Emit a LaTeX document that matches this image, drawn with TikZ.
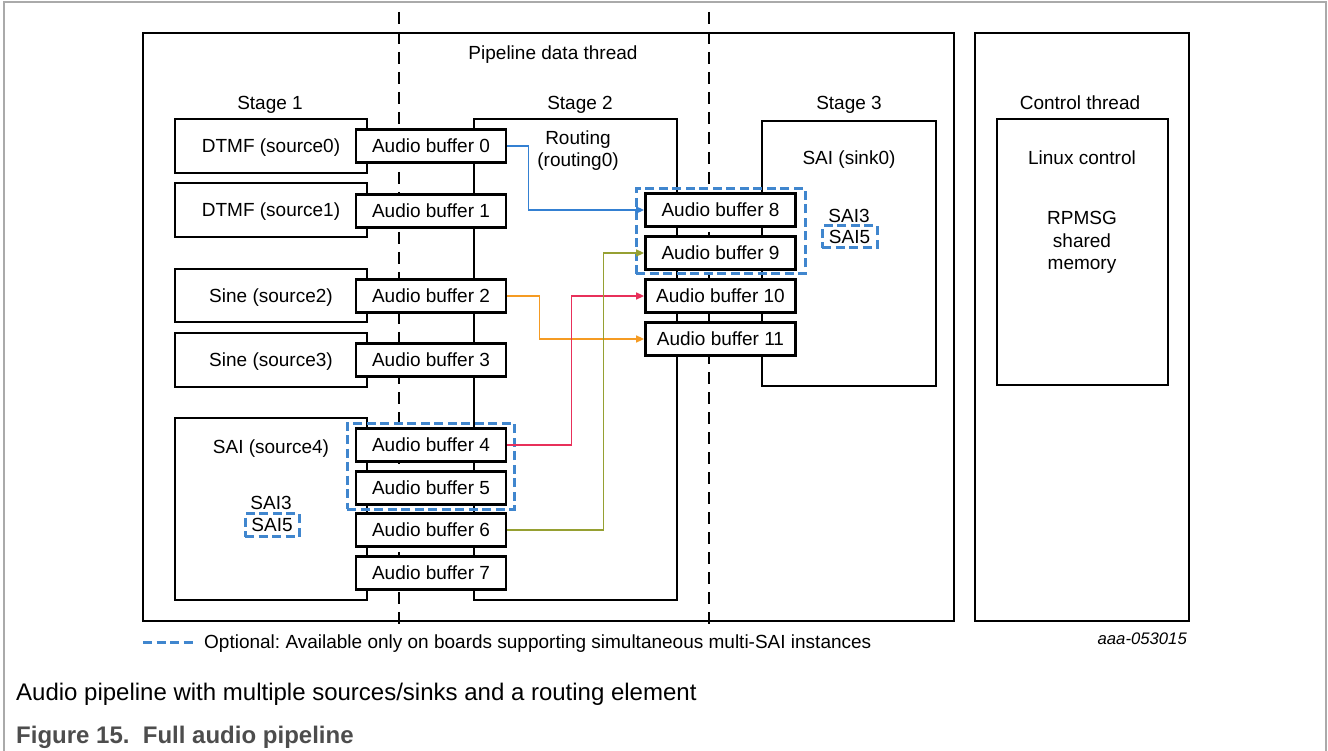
\documentclass[tikz,border=0pt]{standalone}
\usepackage{fontspec}
\setmainfont{Liberation Sans}
\usepackage{xcolor}
\usepackage{tikz}
\usetikzlibrary{calc}
\usetikzlibrary{arrows.meta}
\frenchspacing

\definecolor{optblue}{RGB}{64,134,206}
\definecolor{lnblue}{RGB}{52,128,210}
\definecolor{lnorange}{RGB}{245,155,35}
\definecolor{lnred}{RGB}{232,48,90}
\definecolor{lngreen}{RGB}{150,160,50}
\definecolor{framegray}{RGB}{170,170,170}
\definecolor{capgray}{RGB}{77,77,77}

\tikzset{
    box/.style={draw, line width=2.8pt, inner sep=0pt},
    mtxt/.style={inner sep=0pt, align=center, font=\fontsize{19}{22.5}\selectfont},
    txt/.style={mtxt, text height=13.7pt, text depth=0pt},
    src/.style={box, txt, minimum width=192pt},
    buf/.style={box, txt, fill=white, minimum width=150pt, minimum height=33pt},
    optbox/.style={draw=optblue, line width=3pt, dash pattern=on 9pt off 4.5pt},
    route/.style={line width=1.5pt, -{Triangle[length=8pt,width=7pt]}},
    sepline/.style={line width=1.2pt, dash pattern=on 12pt off 8pt},
}

\begin{document}
\begin{tikzpicture}[x=1pt, y=-1pt]
    \useasboundingbox (0,0) rectangle (1328,751);

    %FRAME
    \draw[framegray, line width=1.5pt] (4,751) -- (4,2) -- (1326,2) -- (1326,751);

    %THREADS
    \node[box, minimum width=811pt, minimum height=588pt] (pipe) at (548.5,327) {};
    \node[txt] (pipetxt) at (553,53) {Pipeline data thread};
    \node[box, minimum width=214pt, minimum height=588pt] (ctrl) at (1082,327) {};
    \node[txt] (ctrltxt) at (1080,103) {Control thread};
    \node[box, minimum width=171pt, minimum height=266pt] (linux) at (1082.5,252) {};
    \node[txt] (linuxtxt) at (1082,158) {Linux control};
    \node[mtxt] (rpmsg) at (1082,242.5) {RPMSG\\shared\\memory};

    %STAGES
    \node[txt] (stage1) at (270,103) {Stage 1};
    \node[txt] (stage2) at (580,103) {Stage 2};
    \node[txt] (stage3) at (849,103) {Stage 3};
    \draw[sepline] (399,12) -- (399,630);
    \draw[sepline] (709,12) -- (709,630);

    %SOURCES
    \node[src, minimum height=54pt] (src0) at (271,146) {DTMF (source0)};
    \node[src, minimum height=54pt] (src1) at (271,210) {DTMF (source1)};
    \node[src, minimum height=53pt] (src2) at (271,295.5) {Sine (source2)};
    \node[src, minimum height=54pt] (src3) at (271,360) {Sine (source3)};
    \node[src, minimum height=182pt] (src4) at (271,509) {};
    \node[txt] (src4txt) at (271,447) {SAI (source4)};
    \node[txt] (src4sai3) at (271,503) {SAI3};
    \node[txt, optbox, minimum width=54pt, minimum height=23pt] (src4sai5) at (272,525) {SAI5};

    %ROUTING + SINK
    \node[box, minimum width=203pt, minimum height=481pt] (rout) at (575.5,359.5) {};
    \node[mtxt] (routtxt) at (578,150.5) {Routing\\(routing0)};
    \node[box, minimum width=174pt, minimum height=265pt] (sink) at (849,253.5) {};
    \node[txt] (sinktxt) at (849,158) {SAI (sink0)};
    \node[txt] (sinksai3) at (849,216) {SAI3};
    \node[txt, optbox, minimum width=55pt, minimum height=22pt] (sinksai5) at (849.5,237) {SAI5};

    %BUFFERS
    \node[buf] (buf0) at (431,146) {Audio buffer 0};
    \node[buf] (buf1) at (431,211) {Audio buffer 1};
    \node[buf] (buf2) at (431,296) {Audio buffer 2};
    \node[buf] (buf3) at (431,360) {Audio buffer 3};
    \node[buf] (buf4) at (431,445) {Audio buffer 4};
    \node[buf] (buf5) at (431,488) {Audio buffer 5};
    \node[buf] (buf6) at (431,530) {Audio buffer 6};
    \node[buf] (buf7) at (431,573) {Audio buffer 7};

    \node[buf] (buf8) at (720.5,210) {Audio buffer 8};
    \node[buf] (buf9) at (720.5,253) {Audio buffer 9};
    \node[buf] (buf10) at (720.5,296) {Audio buffer 10};
    \node[buf] (buf11) at (720.5,339) {Audio buffer 11};

    %OPTIONAL
    \node[optbox, minimum width=167pt, minimum height=86pt] (grp45) at (430.5,466) {};
    \node[optbox, minimum width=169pt, minimum height=85pt] (grp89) at (720.5,231.5) {};

    %ROUTES
    \draw[route, lnblue] (buf0.east) -- ++(21,0) |- (buf8.west);
    \draw[route, lnorange] (buf2.east) -- ++(32,0) |- (buf11.west);
    \draw[route, lnred] (buf4.east) -- ++(64,0) |- (buf10.west);
    \draw[route, lngreen] (buf6.east) -- ++(96,0) |- (buf9.west);

    %LEGEND
    \coordinate (legstart) at (143,642);
    \draw[optbox] (legstart) -- ++(54,0) coordinate (legend);
    \node[txt, anchor=west] (legtxt) at ($(legend)+(7,0)$) {Optional: Available only on boards supporting simultaneous multi-SAI instances};
    \node[inner sep=0pt, anchor=east, text height=12pt, text depth=0pt, font=\fontsize{16.7}{20}\selectfont\itshape] (docid) at (1187,638) {aaa-053015};

    %CAPTION
    \node[inner sep=0pt, anchor=west, text height=17.2pt, text depth=0pt, font=\fontsize{24}{28}\selectfont] (cap) at (16,692) {Audio pipeline with multiple sources/sinks and a routing element};
    \node[inner sep=0pt, anchor=west, text height=17.2pt, text depth=0pt, text=capgray, font=\fontsize{24}{28}\selectfont\bfseries] (fig) at (16,735) {Figure 15.\ \ Full audio pipeline};

\end{tikzpicture}
\end{document}
